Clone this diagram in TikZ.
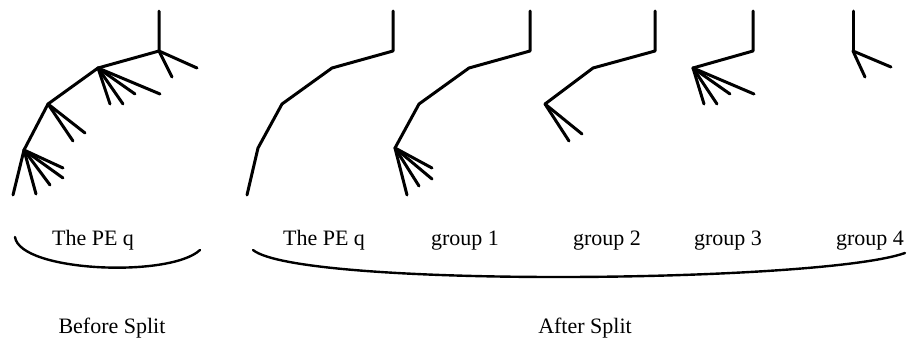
\documentclass[tikz,border=0pt]{standalone}
\usepackage{fontspec}
\setmainfont{Liberation Serif}
\usepackage{tikz}
\tikzset{
    twig/.style={line width=3pt, line cap=round, line join=round},
    bracecurve/.style={line width=2.4pt, line cap=round},
    caption/.style={anchor=base, inner sep=0pt, font=\fontsize{22}{26}\selectfont}
}

\begin{document}
\begin{tikzpicture}[x=1pt,y=-1pt]
    \useasboundingbox (0,0) rectangle (907,349);

    % before split
    \coordinate (p1t) at (159,11);
    \coordinate (p1a) at (159,51);
    \coordinate (p1b) at (98,68);
    \coordinate (p1c) at (48,104);
    \coordinate (p1d) at (24,150);
    \coordinate (p1e) at (13,195);
    \draw [twig](p1t) -- (p1a) -- (p1b) -- (p1c) -- (p1d) -- (p1e);
    \coordinate (p1a1) at (197,68);
    \coordinate (p1a2) at (172,77);
    \path [twig](p1a) edge (p1a1) edge (p1a2);
    \coordinate (p1b1) at (160,94);
    \coordinate (p1b2) at (135,94);
    \coordinate (p1b3) at (123,104);
    \coordinate (p1b4) at (110,104);
    \path [twig](p1b) edge (p1b1) edge (p1b2) edge (p1b3) edge (p1b4);
    \coordinate (p1c1) at (85,133);
    \coordinate (p1c2) at (73,141);
    \path [twig](p1c) edge (p1c1) edge (p1c2);
    \coordinate (p1d1) at (63,168);
    \coordinate (p1d2) at (63,178);
    \coordinate (p1d3) at (50,185);
    \coordinate (p1d4) at (36,194);
    \path [twig](p1d) edge (p1d1) edge (p1d2) edge (p1d3) edge (p1d4);

    % after split: the PE q
    \coordinate (p2t) at (393,11);
    \coordinate (p2a) at (393,51);
    \coordinate (p2b) at (332,68);
    \coordinate (p2c) at (282,104);
    \coordinate (p2d) at (258,148);
    \coordinate (p2e) at (247,195);
    \draw [twig](p2t) -- (p2a) -- (p2b) -- (p2c) -- (p2d) -- (p2e);

    % group 1
    \coordinate (p3t) at (530,11);
    \coordinate (p3a) at (530,51);
    \coordinate (p3b) at (469,68);
    \coordinate (p3c) at (419,104);
    \coordinate (p3d) at (395,148);
    \draw [twig](p3t) -- (p3a) -- (p3b) -- (p3c) -- (p3d);
    \coordinate (p3d1) at (432,168);
    \coordinate (p3d2) at (432,179);
    \coordinate (p3d3) at (419,186);
    \coordinate (p3d4) at (407,195);
    \path [twig](p3d) edge (p3d1) edge (p3d2) edge (p3d3) edge (p3d4);

    % group 2
    \coordinate (p4t) at (655,11);
    \coordinate (p4a) at (655,51);
    \coordinate (p4b) at (593,68);
    \coordinate (p4c) at (545,104);
    \draw [twig](p4t) -- (p4a) -- (p4b) -- (p4c);
    \coordinate (p4c1) at (582,134);
    \coordinate (p4c2) at (569,141);
    \path [twig](p4c) edge (p4c1) edge (p4c2);

    % group 3
    \coordinate (p5t) at (753,11);
    \coordinate (p5a) at (753,51);
    \coordinate (p5b) at (693,68);
    \draw [twig](p5t) -- (p5a) -- (p5b);
    \coordinate (p5b1) at (754,94);
    \coordinate (p5b2) at (730,94);
    \coordinate (p5b3) at (717,104);
    \coordinate (p5b4) at (704,104);
    \path [twig](p5b) edge (p5b1) edge (p5b2) edge (p5b3) edge (p5b4);

    % group 4
    \coordinate (p6t) at (853,11);
    \coordinate (p6a) at (853,51);
    \draw [twig](p6t) -- (p6a);
    \coordinate (p6a1) at (891,67);
    \coordinate (p6a2) at (865,77);
    \path [twig](p6a) edge (p6a1) edge (p6a2);

    % labels
    \node[caption] (pe1) at (93,245) {The PE q};
    \node[caption] (pe2) at (324,245) {The PE q};
    \node[caption] (g1) at (465,245) {group 1};
    \node[caption] (g2) at (607,245) {group 2};
    \node[caption] (g3) at (728,245) {group 3};
    \node[caption] (g4) at (870,245) {group 4};
    \node[caption] (before) at (112,333) {Before Split};
    \node[caption] (after) at (585,333) {After Split};

    % braces
    \coordinate (bl1) at (15,237);
    \coordinate (bl2) at (200,250);
    \draw [bracecurve](bl1) .. controls (20,272) and (170,278) .. (bl2);
    \coordinate (br1) at (253,250);
    \coordinate (br2) at (905,253);
    \draw [bracecurve](br1) .. controls (300,288) and (820,283) .. (br2);

\end{tikzpicture}
\end{document}
